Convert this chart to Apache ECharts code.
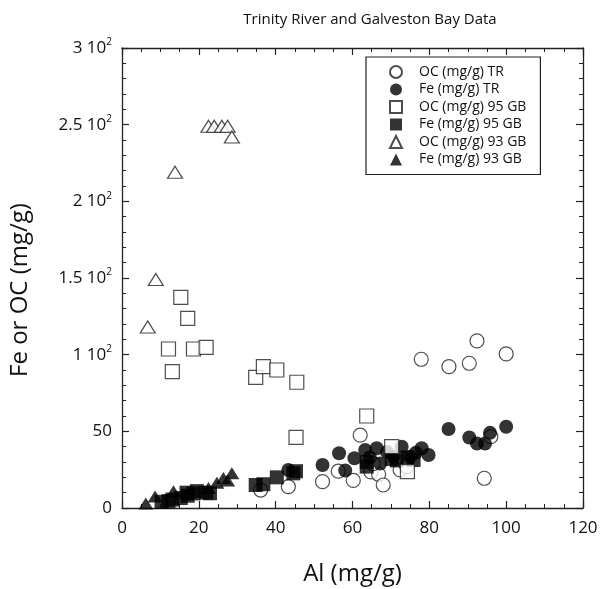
<!DOCTYPE html>
<html>
<head>
<meta charset="utf-8">
<script src="https://cdn.jsdelivr.net/npm/echarts@6/dist/echarts.min.js"></script>
<style>html,body{margin:0;padding:0;background:#fff}#c{width:602px;height:589px}</style>
</head>
<body>
<div id="c"></div>
<script>
// Data: [Al (mg/g), value (mg/g)]
const ocTR = [[36.1,11.7],[43.3,13.9],[52.2,17.2],[56.3,24],[60.2,18],[62,47.5],[64.8,23.5],[66.8,22],[68,15],[72.4,24.8],[74.1,27],[65.4,29],[77.9,97],[85.1,92.2],[90.4,94.4],[92.4,109],[100,100.5],[94.3,19.4],[96,46.5]];
const feTR = [[43.3,24.8],[52.2,28],[56.5,35.7],[58.1,24.5],[60.5,32.4],[63.3,37.8],[64.5,33],[66.3,39],[67.2,29],[69,36.5],[70.7,33.5],[72.8,40],[75,33.5],[76.5,36],[78,39],[79.8,34.6],[85,51.5],[90.4,46],[92.4,42],[94.5,42],[95.8,49],[100,53]];
const oc95 = [[12.1,103.7],[13.1,88.9],[15.3,137.4],[17.1,123.7],[18.6,103.7],[21.9,104.8],[34.8,85.2],[36.8,92.2],[40.3,90],[45.5,82],[45.3,46],[63.7,60],[70.2,40],[74.3,23.7]];
const fe95 = [[10.3,4],[12.1,4.5],[13.1,5.5],[15.3,6.5],[16.8,10],[17.1,8],[18.6,9.5],[19.5,11],[21.9,10],[22.9,9.6],[34.8,15],[36.8,15.5],[40.3,20],[44.6,22.6],[45.3,24],[63.7,27],[63.7,30],[70.2,32],[71.5,31],[74.3,33],[75.9,31.3]];
const oc93 = [[6.7,118],[8.8,149],[13.8,219],[22.5,249],[24,249],[26,249],[27.5,249],[28.6,242]];
const fe93 = [[6.2,3],[8.6,7.5],[13.4,11],[22.5,13],[24.7,16.5],[26.4,19.5],[27.5,18],[28.6,22.6]];
const seriesNames = ['OC (mg/g) TR','Fe (mg/g) TR','OC (mg/g) 95 GB','Fe (mg/g) 95 GB','OC (mg/g) 93 GB','Fe (mg/g) 93 GB'];
const yTickLabels = {0:'0',50:'50',100:'1 10{s|2}',150:'1.5 10{s|2}',200:'2 10{s|2}',250:'2.5 10{s|2}',300:'3 10{s|2}'};

const FONT = 'Open Sans';
const hollow = {color:'#fff', borderColor:'#222', borderWidth:1.2};
const solid = {color:'#000', borderColor:'#000', borderWidth:0};
function axisCommon(){
  return {
    axisLine:{show:true,onZero:false,lineStyle:{color:'#222',width:1.3}},
    axisTick:{show:true,inside:true,length:7,lineStyle:{color:'#222',width:1.2}},
    splitLine:{show:false},
  };
}
const chart = echarts.init(document.getElementById('c'), null, {renderer:'canvas'});
chart.setOption({
  backgroundColor:'#fff',
  animation:false,
  textStyle:{fontFamily:FONT},
  title:{text:'Trinity River and Galveston Bay Data',left:365,top:7,textAlign:'center',
    textStyle:{fontFamily:FONT,fontSize:15,fontWeight:'normal',color:'#111'}},
  grid:{left:122,right:19,top:48,bottom:81,containLabel:false,outerBoundsMode:'none'},
  legend:{
    orient:'vertical',left:366,top:57,
    data:seriesNames,
    backgroundColor:'#fff',borderColor:'#222',borderWidth:1.2,
    padding:[8,14,8,23],itemGap:3.5,itemWidth:12,itemHeight:12,
    textStyle:{fontFamily:FONT,fontSize:14,color:'#111',padding:[0,0,0,12]}
  },
  xAxis:[
    Object.assign(axisCommon(),{type:'value',position:'bottom',min:0,max:120,interval:20,
      minorTick:{show:true,splitNumber:4,length:4,lineStyle:{color:'#222',width:1}},
      axisLabel:{fontFamily:FONT,fontSize:17,color:'#111',margin:12},
      name:'Al (mg/g)',nameLocation:'middle',nameGap:54,
      nameTextStyle:{fontFamily:FONT,fontSize:24,color:'#111'}}),
    Object.assign(axisCommon(),{type:'value',position:'top',min:0,max:120,interval:20,
      minorTick:{show:true,splitNumber:4,length:4,lineStyle:{color:'#222',width:1}},
      axisLabel:{show:false}})
  ],
  yAxis:[
    Object.assign(axisCommon(),{type:'value',position:'left',min:0,max:300,interval:50,
      minorTick:{show:true,splitNumber:5,length:4,lineStyle:{color:'#222',width:1}},
      axisLabel:{fontFamily:FONT,fontSize:17,color:'#111',margin:10,
        formatter:v=>yTickLabels[v]!==undefined?yTickLabels[v]:String(v),
        rich:{s:{fontFamily:FONT,fontSize:10,color:'#111',padding:[0,0,11,0]}}},
      name:'Fe or OC (mg/g)',nameLocation:'middle',nameGap:90,nameRotate:90,
      nameTextStyle:{fontFamily:FONT,fontSize:24,color:'#111',padding:[0,24,0,0]}}),
    Object.assign(axisCommon(),{type:'value',position:'right',min:0,max:300,interval:50,
      minorTick:{show:true,splitNumber:5,length:4,lineStyle:{color:'#222',width:1}},
      axisLabel:{show:false}})
  ],
  series:[
    {name:seriesNames[0],type:'scatter',data:ocTR,symbol:'circle',symbolSize:14,itemStyle:hollow,z:2},
    {name:seriesNames[1],type:'scatter',data:feTR,symbol:'circle',symbolSize:14,itemStyle:solid,z:3},
    {name:seriesNames[2],type:'scatter',data:oc95,symbol:'rect',symbolSize:14,itemStyle:hollow,z:4},
    {name:seriesNames[3],type:'scatter',data:fe95,symbol:'rect',symbolSize:14,itemStyle:solid,z:3},
    {name:seriesNames[4],type:'scatter',data:oc93,symbol:'triangle',symbolSize:[15,12],itemStyle:hollow,z:4},
    {name:seriesNames[5],type:'scatter',data:fe93,symbol:'triangle',symbolSize:[15,12],itemStyle:solid,z:3}
  ]
});
</script>
</body>
</html>
